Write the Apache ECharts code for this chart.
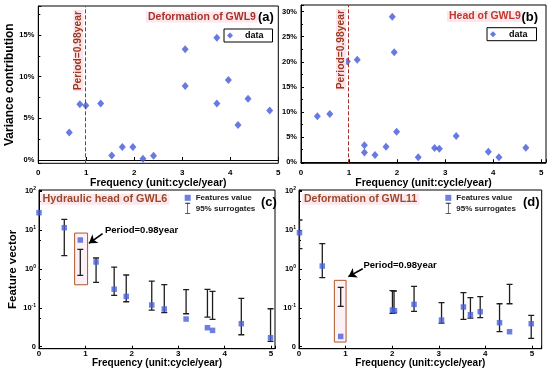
<!DOCTYPE html>
<html><head><meta charset="utf-8">
<script src="https://cdn.jsdelivr.net/npm/echarts@6/dist/echarts.min.js"></script>
<style>html,body{margin:0;padding:0;background:#fff}#c{width:550px;height:373px}</style>
</head><body><div id="c"></div>
<script>
// ---- data (a) Deformation of GWL9 ----
const aFreq = [0.645, 0.866, 0.99, 1.30, 1.53, 1.75, 1.97, 2.18, 2.40, 3.06, 3.06, 3.72, 3.72, 3.96, 4.16, 4.37, 4.82];
const aVar  = [3.3, 6.7, 6.55, 6.8, 0.55, 1.55, 1.55, 0.15, 0.5, 13.3, 8.9, 14.7, 6.8, 9.6, 4.2, 7.35, 5.95];
// ---- data (b) Head of GWL9 ----
const bFreq = [0.34, 0.60, 0.965, 1.17, 1.32, 1.32, 1.54, 1.77, 1.90, 1.94, 1.99, 2.44, 2.78, 2.88, 3.23, 3.90, 4.12, 4.68];
const bVar  = [9.15, 9.6, 20.05, 20.4, 3.4, 1.95, 1.45, 3.1, 28.95, 21.9, 6.1, 1.0, 2.85, 2.7, 5.25, 2.1, 1.0, 2.9];
// ---- data (c) Hydraulic head of GWL6 ----
const cFreq = [0, 0.545, 0.89, 1.23, 1.62, 1.88, 2.43, 2.70, 3.17, 3.63, 3.74, 4.36, 4.99];
const cFeat = [27.7, 11.4, 5.5, 1.5, 0.30, 0.196, 0.118, 0.093, 0.0514, 0.0308, 0.0263, 0.039, 0.017];
const cSurFreq = [0.545, 0.89, 1.23, 1.62, 1.88, 2.43, 2.70, 3.17, 3.63, 3.74, 4.36, 4.99];
const cSurLo   = [2.18, 0.68, 0.45, 0.208, 0.143, 0.0875, 0.0748, 0.0704, 0.0578, 0.0504, 0.0203, 0.0137];
const cSurHi   = [18.7, 3.17, 1.90, 1.11, 0.695, 0.486, 0.392, 0.292, 0.297, 0.264, 0.175, 0.0946];
// ---- data (d) Deformation of GWL11 ----
const dFreq = [0.01, 0.50, 0.895, 2.006, 2.05, 2.47, 3.06, 3.53, 3.68, 3.89, 4.305, 4.52, 4.985];
const dFeat = [8.5, 1.18, 0.0184, 0.0875, 0.084, 0.1225, 0.0484, 0.105, 0.0664, 0.0794, 0.0414, 0.0243, 0.039];
const dSurFreq = [0.01, 0.50, 0.895, 2.006, 2.04, 2.47, 3.06, 3.53, 3.68, 3.89, 4.305, 4.52, 4.985];
const dSurLo   = [3.30, 0.593, 0.109, 0.072, 0.075, 0.081, 0.0406, 0.0504, 0.0546, 0.0556, 0.0243, 0.127, 0.0164];
const dSurHi   = [18.0, 4.43, 0.335, 0.275, 0.27, 0.355, 0.135, 0.244, 0.182, 0.193, 0.127, 0.40, 0.0638];
// ---- annotations ----
const periodFreq = 0.98;
const periodText = 'Period=0.98year';
const cBox = [[0.768, 8.3], [1.047, 0.39]];
const cArrow = [[1.37, 8.0], [1.076, 4.52]];
const dBox = [[0.759, 0.507], [1.01, 0.0132]];
const dArrow = [[1.368, 1.01], [1.06, 0.63]];

const FONT = '"Liberation Sans", Arial, sans-serif';
const BLUE = '#4257d8';
const chart = echarts.init(document.getElementById('c'));

function pctLabel(v){ const r = Math.round(v); if (Math.abs(v - r) > 1e-6 || r % 5 !== 0) return ''; return Math.abs(r) + '%'; }
function intLabel(v){ const r = Math.round(v); return Math.abs(v - r) < 1e-6 ? String(Math.abs(r)) : ''; }
function logLabel(v){ const l = Math.log10(v); const e = Math.round(l); if (Math.abs(l - e) > 0.02) return ''; if (e === -2) return '{b|0}'; return '{b|10}{s|' + e + '}'; }

const axisLine = {show: true, lineStyle: {color: '#000', width: 1}};
const tickIn = {show: true, inside: true, length: 3, lineStyle: {color: '#000'}};
const nameStyle = (fs) => ({fontFamily: FONT, fontWeight: 'bold', fontSize: fs, color: '#000'});
const lblStyle = {fontFamily: FONT, fontWeight: 'bold', color: '#000'};

function xAx(gi, max, gap, fs, margin){
  return {type: 'value', gridIndex: gi, min: 0, max: max, interval: 1,
    axisLine, axisTick: tickIn, splitLine: {show: false},
    axisLabel: Object.assign({formatter: intLabel, fontSize: 8, margin: margin}, lblStyle),
    name: 'Frequency (unit:cycle/year)', nameLocation: 'middle', nameGap: gap, nameTextStyle: nameStyle(fs)};
}
function pctAx(gi, min, max, name){
  return {type: 'value', gridIndex: gi, min: min, max: max, splitNumber: 4, minInterval: 5, maxInterval: 5,
    axisLine, axisTick: tickIn, minorTick: {show: true, splitNumber: 2, length: 2, lineStyle: {color: '#000'}},
    splitLine: {show: false}, minorSplitLine: {show: false},
    axisLabel: Object.assign({formatter: pctLabel, fontSize: 7.5, margin: 4, showMinLabel: true}, lblStyle),
    name: name, nameLocation: 'middle', nameGap: 23, nameTextStyle: nameStyle(12)};
}
function logAx(gi, name){
  return {type: 'log', logBase: 10, gridIndex: gi, min: 0.0089, max: 106,
    axisLine, axisTick: tickIn, minorTick: {show: true, splitNumber: 2, length: 2, lineStyle: {color: '#000'}},
    splitLine: {show: false}, minorSplitLine: {show: false},
    axisLabel: {formatter: logLabel, margin: 3, rich: {
      b: {fontFamily: FONT, fontWeight: 'bold', fontSize: 7.5, color: '#000'},
      s: {fontFamily: FONT, fontWeight: 'bold', fontSize: 5, color: '#000', padding: [0, 0, 5, 0]}}},
    name: name, nameLocation: 'middle', nameGap: 14.5, nameTextStyle: nameStyle(11.5)};
}
function errRender(params, api){
  const x = api.value(0), lo = api.value(1), hi = api.value(2);
  const pH = api.coord([x, hi]), pL = api.coord([x, lo]);
  const w = 3, st = {stroke: '#1e1e1e', lineWidth: 1.3};
  return {type: 'group', children: [
    {type: 'line', shape: {x1: pH[0], y1: pH[1], x2: pL[0], y2: pL[1]}, style: st},
    {type: 'line', shape: {x1: pH[0] - w, y1: pH[1], x2: pH[0] + w, y2: pH[1]}, style: st},
    {type: 'line', shape: {x1: pL[0] - w, y1: pL[1], x2: pL[0] + w, y2: pL[1]}, style: st}
  ]};
}
function periodLine(){
  return {silent: true, symbol: ['none', 'none'],
    lineStyle: {type: 'dashed', color: '#a5302a', width: 1},
    label: {show: true, formatter: periodText, position: 'insideEndTop', distance: [4, 2],
      fontFamily: FONT, fontWeight: 'bold', fontSize: 10.3, color: '#9b3a1e', backgroundColor: '#fde4ea', padding: [0, 1]},
    data: [{xAxis: periodFreq}]};
}
function boxArea(b){
  return {silent: true, itemStyle: {color: 'rgba(252,200,215,0.25)', borderColor: '#b0552d', borderWidth: 1},
    data: [[{coord: b[0]}, {coord: b[1]}]]};
}
function arrowLine(a){
  return {silent: true, symbol: ['none', 'arrow'], symbolSize: 8,
    lineStyle: {type: 'solid', color: '#000', width: 1.6}, label: {show: false},
    data: [[{coord: a[0]}, {coord: a[1]}]]};
}
const T = (text, left, top, fs, color, bg) => ({text, left, top, padding: bg ? [0, 2] : 0, backgroundColor: bg || 'transparent',
  textStyle: {fontFamily: FONT, fontWeight: 'bold', fontSize: fs, color}});
const diamondIcon = 'path://M5,0L10,5L5,10L0,5Z';
const legData = (left, top, iw) => ({data: [{name: 'data', icon: diamondIcon}], left, top, selectedMode: false,
  itemWidth: iw, itemHeight: 6, symbolKeepAspect: true, borderColor: '#000', borderWidth: 1, borderRadius: 0,
  padding: [2, 9, 2, 3], textStyle: {fontFamily: FONT, fontWeight: 'bold', fontSize: 9, color: '#000'}});
const legFeat = (left, top) => ({orient: 'vertical', left, top, selectedMode: false, itemWidth: 6, itemHeight: 11, itemGap: 1,
  symbolKeepAspect: true, padding: 0,
  data: [{name: 'Features value', icon: 'path://M0,0H10V10H0Z'}, {name: '95% surrogates', icon: 'path://M0,0H6V1H3.4V12H6V13H0V12H2.6V1H0Z'}],
  textStyle: {fontFamily: FONT, fontWeight: 'bold', fontSize: 8, color: '#222'}});

const option = {
  animation: false,
  title: [
    T('Deformation of GWL9', 146, 11.5, 10.5, '#a8322a', '#fde6ec'),
    T('(a)', 258, 10.5, 13, '#000'),
    T('Head of GWL9', 447, 11, 10.5, '#c0392b', '#fde6ec'),
    T('(b)', 521.5, 10.5, 13, '#000'),
    T('Hydraulic head of GWL6', 40.5, 193.8, 10.8, '#9a4a2a', '#fde6ec'),
    T('(c)', 261, 195.5, 13, '#000'),
    T('Deformation of GWL11', 302, 193.8, 10.5, '#9a4a2a', '#fde6ec'),
    T('(d)', 523, 195.5, 13, '#000'),
    T(periodText, 105, 225.5, 9.5, '#000'),
    T(periodText, 363.5, 260.5, 9.5, '#000')
  ],
  legend: [legData(224, 29, 20), legData(487, 27.7, 22), legFeat(184.7, 193.8), legFeat(445.3, 193.8)],
  grid: [
    {left: 38.3, top: 6, width: 240, height: 157.3, show: true, borderColor: '#000', borderWidth: 1},
    {left: 301, top: 5, width: 245, height: 158.3, show: true, borderColor: '#000', borderWidth: 1},
    {left: 39, top: 190, width: 236, height: 158.7, show: true, borderColor: '#000', borderWidth: 1},
    {left: 299, top: 190, width: 242.7, height: 158.7, show: true, borderColor: '#000', borderWidth: 1}
  ],
  xAxis: [xAx(0, 5, 13.5, 10.5, 5), xAx(1, 5.1, 13.5, 10.5, 5), xAx(2, 5.086, 7, 10, 1), xAx(3, 5.21, 7, 10, 1)],
  yAxis: [pctAx(0, -0.4, 18.5, 'Variance contribution'), pctAx(1, -0.2, 31.3, ''), logAx(2, 'Feature vector'), logAx(3, '')],
  series: [
    {name: 'data', type: 'scatter', xAxisIndex: 0, yAxisIndex: 0, symbol: 'diamond', symbolSize: [7, 8],
     itemStyle: {color: BLUE}, data: aFreq.map((x, i) => [x, aVar[i]]), markLine: periodLine()},
    {name: 'data', type: 'scatter', xAxisIndex: 1, yAxisIndex: 1, symbol: 'diamond', symbolSize: [7, 8],
     itemStyle: {color: BLUE}, data: bFreq.map((x, i) => [x, bVar[i]]), markLine: periodLine()},
    {name: '95% surrogates', type: 'custom', xAxisIndex: 2, yAxisIndex: 2, clip: true, renderItem: errRender,
     itemStyle: {color: '#222'}, encode: {x: 0, y: [1, 2]}, data: cSurFreq.map((x, i) => [x, cSurLo[i], cSurHi[i]]),
     markLine: arrowLine(cArrow)},
    {name: 'Features value', type: 'scatter', xAxisIndex: 2, yAxisIndex: 2, symbol: 'rect', symbolSize: 5.5,
     itemStyle: {color: '#4a5fdc'}, data: cFreq.map((x, i) => [x, cFeat[i]]), markArea: boxArea(cBox)},
    {name: '95% surrogates', type: 'custom', xAxisIndex: 3, yAxisIndex: 3, clip: true, renderItem: errRender,
     itemStyle: {color: '#222'}, encode: {x: 0, y: [1, 2]}, data: dSurFreq.map((x, i) => [x, dSurLo[i], dSurHi[i]]),
     markLine: arrowLine(dArrow)},
    {name: 'Features value', type: 'scatter', xAxisIndex: 3, yAxisIndex: 3, symbol: 'rect', symbolSize: 5.5,
     itemStyle: {color: '#4a5fdc'}, data: dFreq.map((x, i) => [x, dFeat[i]]), markArea: boxArea(dBox)}
  ]
};
chart.setOption(option);
</script></body></html>
